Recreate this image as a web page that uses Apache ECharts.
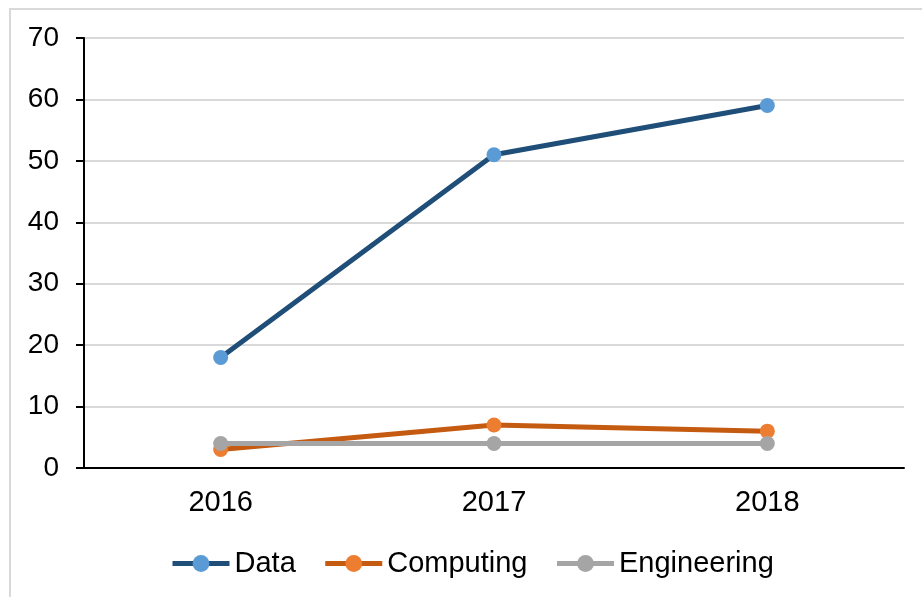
<!DOCTYPE html>
<html lang="en">
<head>
    <meta charset="UTF-8">
    <title>Data / Computing / Engineering</title>
    <script src="https://cdn.jsdelivr.net/npm/echarts@6/dist/echarts.min.js"></script>
</head>
<body style="margin: 0; background-color: white;">
<div style="position: absolute; left: 9px; top: 8px; width: 940px; height: 620px; border: 2px solid #d9d9d9; box-sizing: border-box;"></div>
<div id="chart" style="position: absolute; left: 0; top: 0; width: 922px; height: 597px;"></div>

<script>
    // chart data
    const years = ['2016', '2017', '2018'];
    const dataValues = [18, 51, 59];
    const computingValues = [3, 7, 6];
    const engineeringValues = [4, 4, 4];
    const yTicks = { min: 0, max: 70, interval: 10 };

    const FONT = 'Liberation Sans, Arial, sans-serif';

    function makeSeries(name, values, lineColor, markerColor) {
        return {
            name: name,
            type: 'line',
            data: values,
            symbol: 'circle',
            symbolSize: 15,
            lineStyle: { color: lineColor, width: 5 },
            itemStyle: { color: markerColor },
            emphasis: { disabled: true }
        };
    }

    const myChart = echarts.init(document.getElementById('chart'));

    myChart.setOption({
        animation: false,
        grid: { left: 84, right: 18, top: 38, bottom: 129 },
        legend: {
            left: 165,
            top: 544,
            itemWidth: 57,
            itemHeight: 21,
            itemGap: 27,
            lineStyle: { width: 5 },
            textStyle: { fontSize: 29, color: '#000', fontFamily: FONT },
            data: ['Data', 'Computing', 'Engineering']
        },
        xAxis: {
            type: 'category',
            data: years,
            boundaryGap: true,
            axisLine: { lineStyle: { color: '#000', width: 2 } },
            axisTick: { show: false },
            axisLabel: { fontSize: 29, color: '#000', fontFamily: FONT, margin: 20 }
        },
        yAxis: {
            type: 'value',
            min: yTicks.min,
            max: yTicks.max,
            interval: yTicks.interval,
            axisLine: { show: true, lineStyle: { color: '#000', width: 2 } },
            axisTick: { show: true, length: 8, lineStyle: { color: '#000', width: 2 } },
            splitLine: { lineStyle: { color: '#d9d9d9', width: 2 } },
            axisLabel: { fontSize: 28, color: '#000', fontFamily: FONT, margin: 25 }
        },
        series: [
            makeSeries('Data', dataValues, '#1f4e79', '#5b9bd5'),
            makeSeries('Computing', computingValues, '#c55a11', '#ed7d31'),
            makeSeries('Engineering', engineeringValues, '#a5a5a5', '#a5a5a5')
        ]
    });
</script>
</body>
</html>
